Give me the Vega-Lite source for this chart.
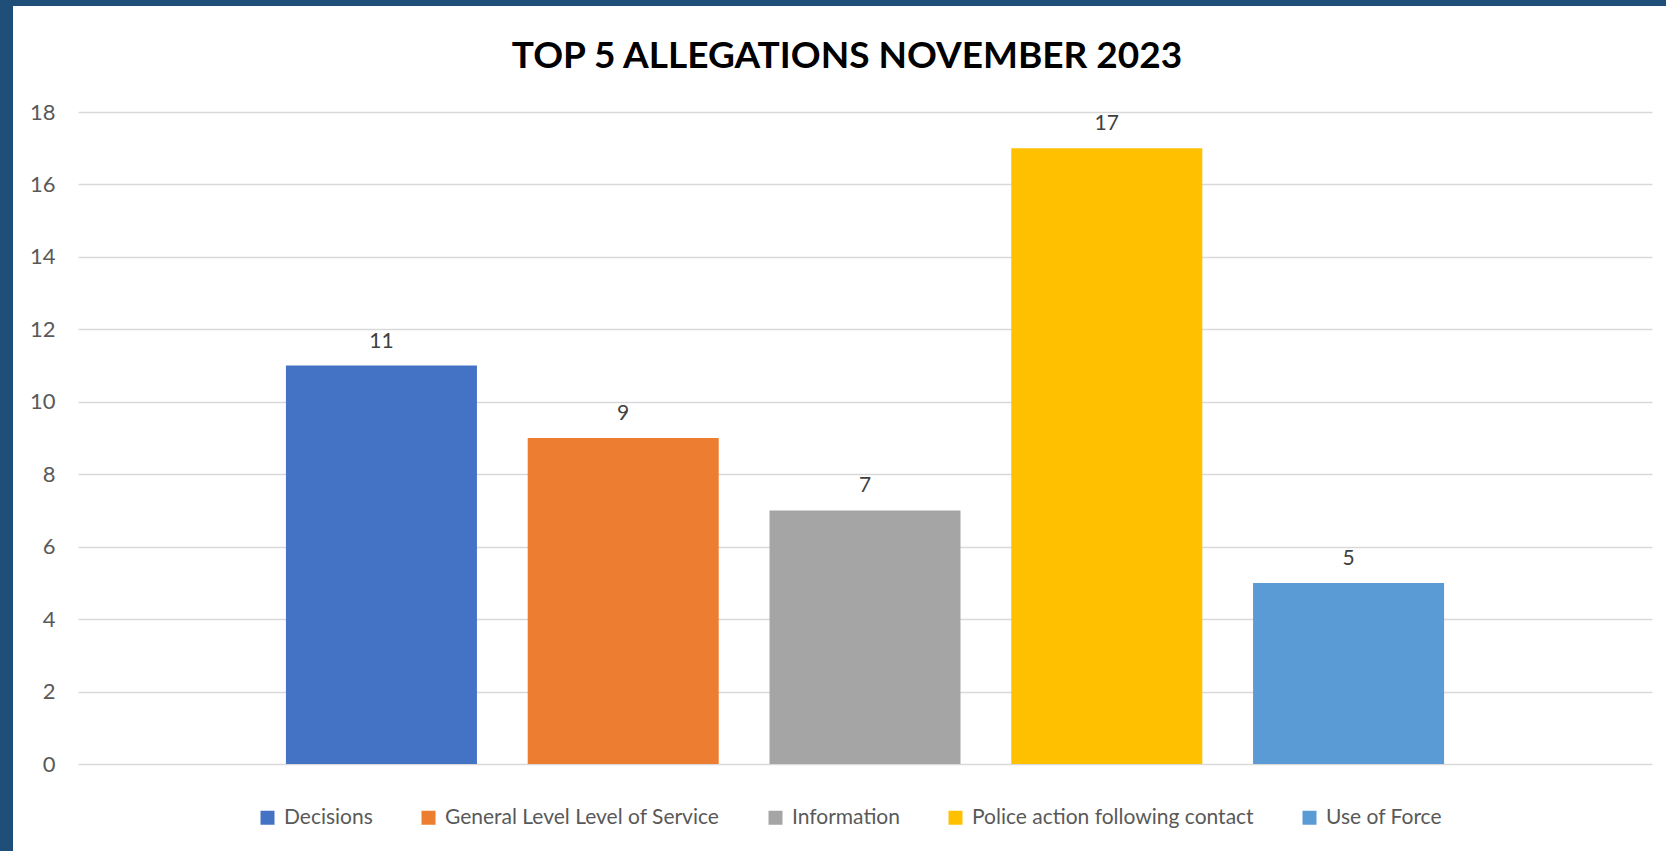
{
  "$schema": "https://vega.github.io/schema/vega-lite/v6.json",
  "background": "white",
  "padding": 0,
  "spacing": 0,
  "config": {"view": {"stroke": null}, "font": "Lato"},
  "datasets": {
    "allegations": [
      {"category": "Decisions", "count": 11},
      {"category": "General Level Level of Service", "count": 9},
      {"category": "Information", "count": 7},
      {"category": "Police action following contact", "count": 17},
      {"category": "Use of Force", "count": 5}
    ]
  },
  "hconcat": [
    {
      "data": {"values": []},
      "mark": "rect",
      "encoding": {},
      "width": 13,
      "height": 851,
      "view": {"fill": "#1F4E79", "stroke": null}
    },
    {
      "concat": [
        {
          "data": {"values": []},
          "mark": "rect",
          "encoding": {},
          "width": 1653,
          "height": 6,
          "view": {"fill": "#1F4E79", "stroke": null}
        },
        {
          "hconcat": [
            {
              "width": 65,
              "height": 652,
              "data": {"name": "allegations"},
              "mark": {"type": "tick", "opacity": 0},
              "encoding": {
                "y": {
                  "field": "count",
                  "type": "quantitative",
                  "scale": {"domain": [0, 18], "nice": false},
                  "axis": {
                    "orient": "left",
                    "offset": -65,
                    "values": [0, 2, 4, 6, 8, 10, 12, 14, 16, 18],
                    "title": null,
                    "domain": false,
                    "ticks": false,
                    "grid": false,
                    "labelFont": "Lato",
                    "labelFontSize": 22,
                    "labelColor": "#595959",
                    "labelPadding": 23
                  }
                }
              }
            },
            {
              "width": 1574,
              "height": 652,
              "data": {"name": "allegations"},
              "title": {
                "text": "TOP 5 ALLEGATIONS NOVEMBER 2023",
                "font": "Lato",
                "fontSize": 37,
                "fontWeight": "bold",
                "color": "#000000",
                "anchor": "middle",
                "frame": "group",
                "offset": 36,
                "dx": -18,
                "baseline": "top"
              },
              "encoding": {
                "x": {
                  "field": "category",
                  "type": "nominal",
                  "sort": null,
                  "axis": null,
                  "scale": {"paddingInner": 0.21, "paddingOuter": 0.86}
                },
                "y": {
                  "field": "count",
                  "type": "quantitative",
                  "scale": {"domain": [0, 18], "nice": false},
                  "axis": {
                    "values": [0, 2, 4, 6, 8, 10, 12, 14, 16, 18],
                    "title": null,
                    "domain": false,
                    "ticks": false,
                    "labels": false,
                    "grid": true,
                    "gridColor": "#D9D9D9",
                    "gridWidth": 1.5,
                    "minExtent": 0
                  }
                }
              },
              "layer": [
                {
                  "mark": {"type": "bar"},
                  "encoding": {
                    "color": {
                      "field": "category",
                      "type": "nominal",
                      "sort": null,
                      "scale": {"range": ["#4472C4", "#ED7D31", "#A5A5A5", "#FFC000", "#5B9BD5"]},
                      "legend": {
                        "orient": "none",
                        "legendX": 257,
                        "legendY": 807,
                        "direction": "horizontal",
                        "title": null,
                        "symbolType": "square",
                        "symbolSize": 196,
                        "symbolStrokeWidth": 0,
                        "symbolOpacity": 1,
                        "labelFont": "Lato",
                        "labelFontSize": 21,
                        "labelColor": "#595959",
                        "labelOffset": 6,
                        "labelLimit": 400,
                        "columnPadding": 45,
                        "padding": 0
                      }
                    }
                  }
                },
                {
                  "mark": {"type": "text", "font": "Lato", "fontSize": 21, "color": "#404040", "dy": -18, "baseline": "alphabetic"},
                  "encoding": {"text": {"field": "count", "type": "quantitative"}}
                }
              ]
            }
          ],
          "spacing": 0
        }
      ],
      "columns": 1,
      "spacing": {"row": 32, "column": 0}
    }
  ]
}
